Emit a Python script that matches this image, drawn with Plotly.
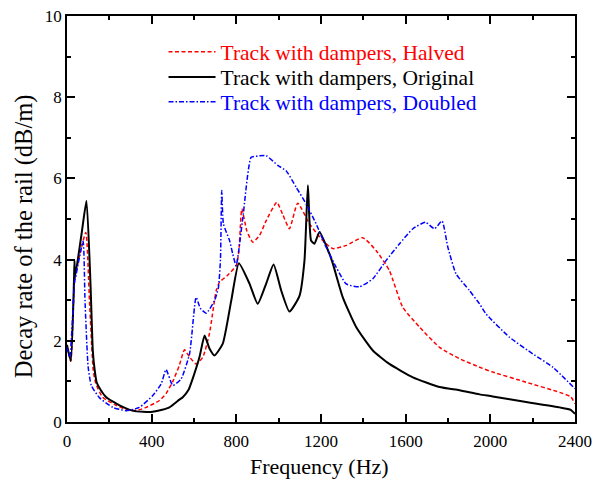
import plotly.graph_objects as go

# ---- data ----
orig_f = [0, 18, 33, 35.5, 37, 68, 92, 111, 122, 131, 140, 160, 185, 248, 310, 360, 405, 450, 484,
          531, 547, 575, 594, 626, 650, 673, 697, 736, 776, 812, 862, 901, 941, 976, 1012, 1051, 1098,
          1122, 1138, 1153, 1169, 1193, 1240, 1256, 1303, 1366, 1445, 1523, 1634, 1760, 1854, 1949,
          2011, 2169, 2327, 2380, 2400]
orig_y = [1.9, 1.5, 3.5, 3.97, 3.55, 4.6, 5.45, 3.4, 1.75, 1.27, 0.98, 0.78, 0.61, 0.41, 0.28,
          0.25, 0.25, 0.3, 0.36, 0.55, 0.61, 0.8, 1.07, 1.6, 2.13, 1.81, 1.64, 1.93, 2.99, 3.91, 3.41,
          2.91, 3.41, 3.88, 3.24, 2.72, 3.1, 3.98, 5.83, 4.47, 4.39, 4.68, 4.14, 3.9, 3.07, 2.34, 1.76,
          1.43, 1.1, 0.86, 0.78, 0.68, 0.63, 0.49, 0.36, 0.3, 0.2]

half_f = [0, 18, 36, 55, 89, 106, 124, 136, 168, 232, 295, 340, 374, 437, 468, 500,
          531, 555, 579, 610, 642, 673, 705, 720, 760, 799, 812, 826, 850, 878, 910, 941, 991, 1020,
          1051, 1090, 1146, 1208, 1256, 1319, 1397, 1461, 1523, 1586, 1665, 1760, 1854, 1949, 2011,
          2169, 2327, 2380, 2400]
half_y = [1.85, 1.5, 3.5, 4.0, 4.67, 3.0, 1.27, 0.95, 0.61, 0.41, 0.28, 0.3, 0.36,
          0.53, 0.7, 1.0, 1.4, 1.78, 1.6, 1.43, 1.6, 2.18, 3.24, 3.44, 3.62, 3.85, 4.2, 5.25, 4.7,
          4.43, 4.6, 4.96, 5.41, 5.1, 4.76, 5.39, 4.88, 4.47, 4.27, 4.35, 4.54, 4.22, 3.73, 2.83,
          2.34, 1.84, 1.56, 1.35, 1.23, 0.98, 0.73, 0.62, 0.45]

dbl_f = [0, 13, 36, 40, 76, 85, 100, 115, 153, 216, 280, 342, 405, 445, 468, 500, 539, 579, 610,
         630, 658, 697, 715, 725, 731, 739, 768, 783, 799, 831, 870, 900, 941, 996, 1035, 1083, 1130,
         1177, 1224, 1272, 1319, 1382, 1445, 1508, 1571, 1634, 1694, 1736, 1772, 1799, 1838, 1901,
         1949, 1980, 2090, 2200, 2295, 2400]
dbl_y = [1.84, 1.6, 3.45, 3.55, 4.45, 3.0, 1.35, 0.9, 0.6, 0.36, 0.28, 0.36, 0.65, 0.94, 1.29, 0.9,
         1.06, 1.68, 3.07, 2.8, 2.68, 2.99, 3.3, 4.0, 5.7, 4.88, 4.47, 4.14, 3.85, 5.04, 6.52, 6.55,
         6.56, 6.32, 6.19, 5.78, 5.37, 4.88, 4.31, 3.81, 3.4, 3.33, 3.53, 3.98, 4.39, 4.76, 4.92,
         4.76, 4.95, 4.31, 3.65, 3.24, 2.91, 2.66, 2.09, 1.68, 1.35, 0.82]

names = ["Track with dampers, Halved", "Track with dampers, Original", "Track with dampers, Doubled"]
colors = ["#ff0000", "#000000", "#0000ff"]
x_title = "Frequency (Hz)"
y_title = "Decay rate of the rail (dB/m)"

FONT = "Liberation Serif"

fig = go.Figure()
fig.add_trace(go.Scatter(x=half_f, y=half_y, mode="lines", name=names[0], legend="legend",
                         showlegend=True,
                         line=dict(color=colors[0], width=1.5, dash="4px,2.5px",
                                   shape="spline", smoothing=0.5)))
fig.add_trace(go.Scatter(x=orig_f, y=orig_y, mode="lines", name=names[1], legend="legend2",
                         showlegend=True,
                         line=dict(color=colors[1], width=2, shape="spline", smoothing=0.5)))
fig.add_trace(go.Scatter(x=dbl_f, y=dbl_y, mode="lines", name=names[2], legend="legend3",
                         showlegend=True,
                         line=dict(color=colors[2], width=1.5, dash="5px,2px,1.5px,2px",
                                   shape="spline", smoothing=0.5)))

def leg(y, color):
    return dict(x=0.19, y=y, xanchor="left", yanchor="middle", bgcolor="rgba(0,0,0,0)",
                borderwidth=0, itemwidth=47, font=dict(family=FONT, size=21.5, color=color))

axis_common = dict(showline=True, linecolor="black", linewidth=1.5, mirror="allticks",
                   ticks="inside", ticklen=8, tickwidth=1.5, tickcolor="black",
                   showgrid=False, zeroline=False, automargin=False,
                   tickfont=dict(family=FONT, size=17, color="black"))

fig.update_layout(
    width=602, height=480,
    showlegend=True,
    margin=dict(l=67, r=27, t=16, b=58, autoexpand=False),
    plot_bgcolor="white", paper_bgcolor="white",
    font=dict(family=FONT),
    legend=leg(0.912, colors[0]),
    legend2=leg(0.850, colors[1]),
    legend3=leg(0.789, colors[2]),
    xaxis=dict(range=[0, 2400], dtick=400, tick0=0, ticklabelstandoff=3,
               minor=dict(dtick=200, ticks="inside", ticklen=4, tickcolor="black", tickwidth=1.5),
               **axis_common),
    yaxis=dict(range=[0, 10], dtick=2, tick0=0,
               minor=dict(dtick=1, ticks="inside", ticklen=4, tickcolor="black", tickwidth=1.5),
               **axis_common),
    annotations=[
        dict(text=y_title, xref="paper", yref="paper", x=-0.0857, y=0.4587,
             xanchor="center", yanchor="middle", textangle=-90, showarrow=False,
             font=dict(family=FONT, size=24.5, color="black")),
        dict(text=x_title, xref="paper", yref="paper", x=0.4975, y=-0.1097,
             xanchor="center", yanchor="middle", showarrow=False,
             font=dict(family=FONT, size=22, color="black")),
    ],
)

fig.write_html("out.html")
